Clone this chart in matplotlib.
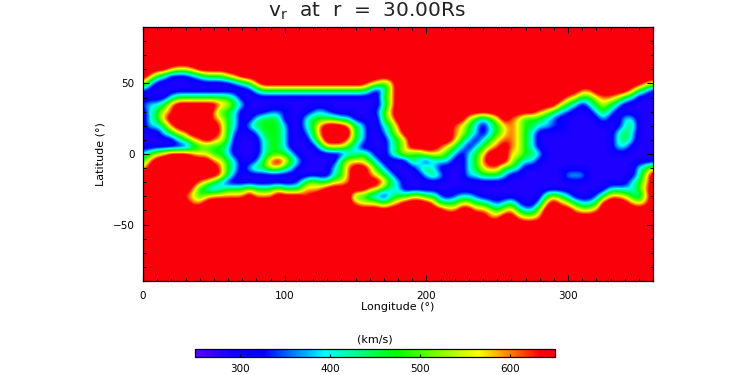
import matplotlib
matplotlib.use("Agg")
import matplotlib.pyplot as plt
import numpy as np
from matplotlib.colors import LinearSegmentedColormap, Normalize
from matplotlib.ticker import MultipleLocator

plt.rcParams['font.family'] = ['DejaVu Sans']
plt.rcParams['mathtext.default'] = 'regular'

# Speed classes (km/s)
LEVELS = {'B': 285, 'b': 340, 'c': 395, 'g': 470, 'y': 560, 'o': 610, 'R': 690}
LONGITUDES = list(range(0, 361, 5))
LATITUDES = list(range(90, -91, -5))
CLEAR = "R" * 73

ROWS = [
    CLEAR, CLEAR, CLEAR, CLEAR, CLEAR,  # 90..70
    CLEAR,  # 65
    "RRRRo yyoRR RRRRR RRRRR RRRRR RRRRR RRRRR RRRRR RRRRR RRRRR RRRRR RRRRR RRRRR RRRRR RRR",  # 60
    "RogcB BBbcg ggyoR RRRRR RRRRR RRRRR RRRRR RRRRR RRRRR RRRRR RRRRR RRRRR RRRRR RRRRR RRR",  # 55
    "ycBBB BBBBB BBBbc goRRR RRRRR RRRRR RRoyg yRRRR RRRRR RRRRR RRRRR RRRRR RRRRR RRRRR Roy",  # 50
    "bBBBB BBBBB BBBBB Bcggg ggggg ggggg ggcBc yRRRR RRRRR RRRRR RRRRR RRRRR RRooR RRRRo gcB",  # 45
    "BBBBc ggggg gggcB BBBBB BBBBB BBBBB BBBBg yRRRR RRRRR RRRRR RRRRR RRRRR oyggy ooygc BBB",  # 40
    "bccgo RRRRR Roygc BBBBB BBBBB BBBBB BBBBc yRRRR RRRRR RRRRR RRRRR RRRRy gcBcg ygcBB BBB",  # 35
    "Bcgyo RRRRR oggcB BBBbb bBBBb cbBBB BBBbg oRRRR RRRRR RRRRR RRRRR Roygc bBBBc gcBBB BBB",  # 30
    "BcgoR RRRRR oygcB Bcggg BBBcg gggcc BBBBg yRRRR RRRRR Rygcg yRoyg ggcbB BBBBB cBBcc BBB",  # 25
    "Bccgo RRRRR RogcB cgggg cBBcg oRRRo gcBBc goRRR RRRRo ygcBc gyoyg gccbb BBBBB BBBcg BBB",  # 20
    "BBBcg yoRRR RogbB Bbggg cBBbg oRRRR gcBBb gyRRR RRRRo ygcBc gyoyg cBBBB BBBBB BBcgc BBB",  # 15
    "BBBBB cgyoR oygBB BBcgg cBBBc yRRRo gcBBB cgyRR RRRRo gcBcg yooyg cBBBB BBBBB BBcgc BBB",  # 10
    "BBBBB BBcgg ggcBB BBcgg cBBBB cyyyg cBBBB cgyRR RRoyg cBcgy oRoyg cBBBB BBBBB BBccB BBB",  # 5
    "cgyoR RRoyy ggcBB BBcgg gcBBB BBBBc cgcBB cgygg yyygc BcgyR RRyyg gcBBB BBBBB BBBBB BBB",  # 0
    "goRRR RRRRR oygcB BbgoR ogcBB BBBgy yygcB BBBgc BcccB BcgoR RRygc cBBBB BBBBB BBBBB BBB",  # -5
    "yRRRR RRRRR RogcB cggyy gcBBB BBcgo RRogc BBBBc gcBBB Bcgyo oggcB BBBBB BBBBB BBBBB cgy",  # -10
    "RRRRR RRRRR RogbB BBBBB BBBBB BBcgo RRoyg cBBBB cgcBB Bccgg gcBBB BBBBB cccBB BBBBB cyR",  # -15
    "RRRRR RRRoy gcBBB BBBBB BBbgy ggyyo RRRRo gcBBB BBBBB BBBBB BBBBB BBBBB BBBBB BBBBc gyR",  # -20
    "RRRRR RRogc bcggg ygggy gggoy oRRRR RRoyg ccBBB BBBBB BBBBB BBBBB BBBBB BBBBB Bcccc goR",  # -25
    "RRRRR Roygy ooooo RoooR RRRoR RRRRR ggcbB cggyy ggbBb ccbBB BBBBB BBgyg cBBBb gooyg cyR",  # -30
    "RRRRR RRooR RRRRR RRRRR RRRRR RRRRR oyyyg yoRRR Roggg yyggc bcgbB BcoRo ygccg RRRRo yoR",  # -35
    "RRRRR RRRRR RRRRR RRRRR RRRRR RRRRR RRRRR RRRRR RRRoo RRooy gyogc cyRRR Royyo RRRRR RRR",  # -40
    "RRRRR RRRRR RRRRR RRRRR RRRRR RRRRR RRRRR RRRRR RRRRR RRRRo oRRoy yoRRR RRRRR RRRRR RRR",  # -45
    CLEAR, CLEAR, CLEAR,  # -50..-60
    CLEAR, CLEAR, CLEAR, CLEAR, CLEAR, CLEAR,  # -65..-90
]

X_TICKS = [0, 100, 200, 300]
Y_TICKS = [-50, 0, 50]
CBAR_TICKS = [300, 400, 500, 600]
VMIN, VMAX = 250, 650

field = np.array([[LEVELS[ch] for ch in row.replace(" ", "")] for row in ROWS], dtype=float)

cmap = LinearSegmentedColormap.from_list("idl_rainbow", [
    (0.0, "#5a00ff"), (0.10, "#1400ff"), (0.19, "#0000ff"),
    (0.36, "#00ffff"), (0.56, "#00ff00"), (0.79, "#ffff00"),
    (0.96, "#fa000a"), (1.0, "#fa000a")])

W, H = 750, 375
fig = plt.figure(figsize=(W / 100, H / 100), dpi=100, facecolor="white")
ax = fig.add_axes([143 / W, 1 - 281 / H, 510 / W, 254 / H])
im = ax.imshow(field, extent=[-2.5, 362.5, -92.5, 92.5], origin="upper", aspect="auto",
               cmap=cmap, norm=Normalize(VMIN, VMAX),
               interpolation="bicubic", interpolation_stage="data")
ax.set_xlim(0, 360)
ax.set_ylim(-90, 90)
ax.set_xticks(X_TICKS)
ax.set_yticks(Y_TICKS)
ax.xaxis.set_minor_locator(MultipleLocator(10))
ax.yaxis.set_minor_locator(MultipleLocator(10))
ax.tick_params(which="major", direction="in", top=True, right=True, length=4, width=0.8,
               labelsize=7.5, color="black")
ax.tick_params(axis="x", which="major", pad=7)
ax.tick_params(axis="y", which="major", pad=6)
ax.tick_params(which="minor", direction="in", top=True, right=True, length=2, width=0.8, color="black")
for s in ax.spines.values():
    s.set_linewidth(0.9)

fig.text(398 / W, 1 - 307 / H, "Longitude (°)", ha="center", va="center", fontsize=8)
fig.text(101 / W, 1 - 154 / H, "Latitude (°)", ha="center", va="center", rotation=90, fontsize=8)
fig.text(367 / W, 1 - 11 / H, "v$_{r}$  at  r  =  30.00Rs", ha="center", va="center",
         fontsize=14.5, color="#222222")

cax = fig.add_axes([195 / W, 1 - 357 / H, 360 / W, 8 / H])
cb = fig.colorbar(im, cax=cax, orientation="horizontal")
cb.set_ticks(CBAR_TICKS)
cb.ax.tick_params(direction="in", length=2, width=0.8, labelsize=7.5, pad=5)
cb.outline.set_linewidth(0.9)
fig.text(375 / W, 1 - 340 / H, "(km/s)", ha="center", va="center", fontsize=8)

fig.savefig("out.png", dpi=100)
